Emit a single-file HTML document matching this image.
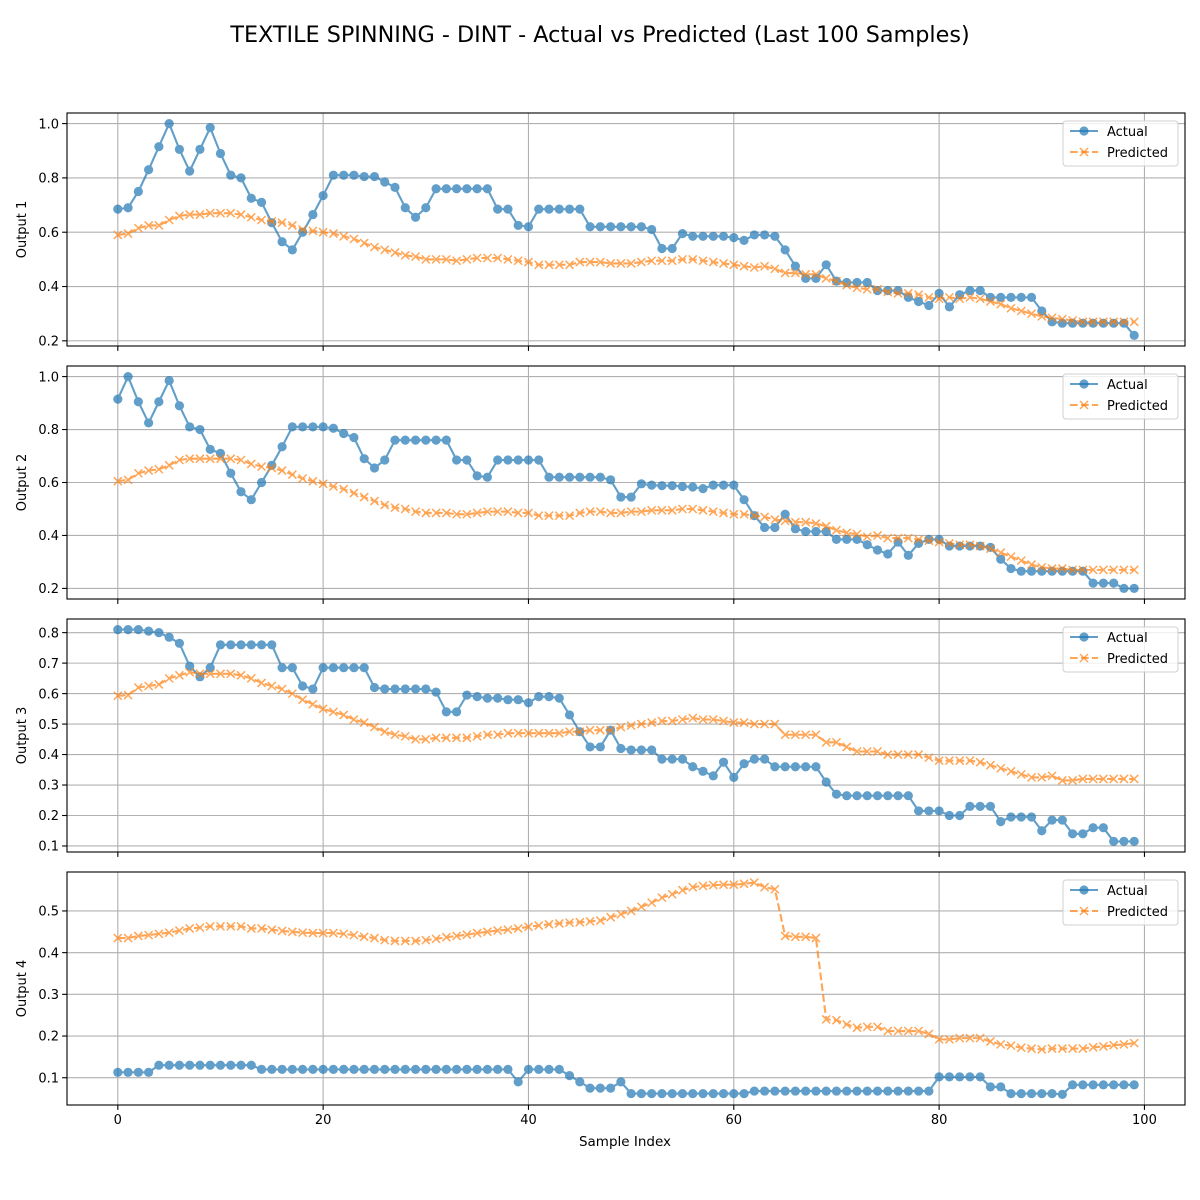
<!DOCTYPE html>
<html><head><meta charset="utf-8"><title>Actual vs Predicted</title>
<style>html,body{margin:0;padding:0;background:#fff}svg{display:block;font-family:"DejaVu Sans","Liberation Sans",sans-serif}</style>
</head><body>
<svg id="fig" width="1200" height="1200" xmlns="http://www.w3.org/2000/svg">
<rect width="1200" height="1200" fill="#fff"/>
<text x="600" y="42" text-anchor="middle" font-size="22.3">TEXTILE SPINNING - DINT - Actual vs Predicted (Last 100 Samples)</text>
<text x="625" y="1146" text-anchor="middle" font-size="13.5">Sample Index</text>
</svg>
<script>
const xTicks = [0, 20, 40, 60, 80, 100];
const panelTitles = ["Output 1", "Output 2", "Output 3", "Output 4"];
const yTicks1 = [0.2, 0.4, 0.6, 0.8, 1.0];
const yTicks2 = [0.2, 0.4, 0.6, 0.8, 1.0];
const yTicks3 = [0.1, 0.2, 0.3, 0.4, 0.5, 0.6, 0.7, 0.8];
const yTicks4 = [0.1, 0.2, 0.3, 0.4, 0.5];
const actual1 = [0.685,0.69,0.75,0.83,0.915,1.0,0.905,0.825,0.905,0.985,0.89,0.81,0.80,0.725,0.71,0.635,0.565,0.535,0.6,0.665,0.735,0.81,0.81,0.81,0.805,0.805,0.785,0.765,0.69,0.655,0.69,0.76,0.76,0.76,0.76,0.76,0.76,0.685,0.685,0.625,0.62,0.685,0.685,0.685,0.685,0.685,0.62,0.62,0.62,0.62,0.62,0.62,0.61,0.54,0.54,0.595,0.585,0.585,0.585,0.585,0.58,0.57,0.59,0.59,0.585,0.535,0.475,0.43,0.43,0.48,0.42,0.415,0.415,0.415,0.385,0.385,0.385,0.36,0.345,0.33,0.375,0.325,0.37,0.385,0.385,0.36,0.36,0.36,0.36,0.36,0.31,0.27,0.265,0.265,0.265,0.265,0.265,0.265,0.265,0.22];
const pred1 = [0.59,0.595,0.615,0.625,0.625,0.645,0.66,0.665,0.665,0.67,0.67,0.67,0.665,0.655,0.645,0.64,0.635,0.625,0.61,0.605,0.60,0.595,0.585,0.575,0.56,0.545,0.535,0.525,0.515,0.51,0.50,0.50,0.50,0.495,0.50,0.505,0.505,0.505,0.50,0.495,0.49,0.48,0.48,0.48,0.48,0.49,0.49,0.49,0.485,0.485,0.485,0.49,0.495,0.495,0.495,0.50,0.50,0.495,0.49,0.485,0.48,0.475,0.47,0.475,0.465,0.45,0.45,0.445,0.445,0.43,0.42,0.405,0.395,0.39,0.39,0.38,0.375,0.375,0.37,0.36,0.355,0.36,0.355,0.36,0.355,0.345,0.335,0.32,0.31,0.30,0.29,0.285,0.28,0.275,0.27,0.27,0.27,0.27,0.27,0.27];
const actual2 = [0.915,1.0,0.905,0.825,0.905,0.985,0.89,0.81,0.80,0.725,0.71,0.635,0.565,0.535,0.6,0.665,0.735,0.81,0.81,0.81,0.81,0.805,0.785,0.77,0.69,0.655,0.685,0.76,0.76,0.76,0.76,0.76,0.76,0.685,0.685,0.625,0.62,0.685,0.685,0.685,0.685,0.685,0.62,0.62,0.62,0.62,0.62,0.62,0.61,0.545,0.545,0.595,0.59,0.588,0.588,0.585,0.583,0.577,0.59,0.59,0.59,0.535,0.475,0.43,0.43,0.48,0.425,0.415,0.415,0.415,0.385,0.385,0.385,0.365,0.345,0.33,0.375,0.325,0.37,0.385,0.385,0.36,0.36,0.36,0.36,0.355,0.31,0.275,0.265,0.265,0.265,0.265,0.265,0.265,0.265,0.22,0.22,0.22,0.2,0.2];
const pred2 = [0.605,0.61,0.635,0.645,0.65,0.665,0.685,0.69,0.69,0.69,0.69,0.69,0.685,0.67,0.66,0.655,0.645,0.63,0.615,0.605,0.595,0.585,0.575,0.56,0.545,0.53,0.515,0.505,0.50,0.49,0.485,0.485,0.485,0.48,0.48,0.485,0.49,0.49,0.49,0.485,0.485,0.475,0.475,0.475,0.475,0.485,0.49,0.49,0.485,0.485,0.49,0.49,0.495,0.495,0.495,0.50,0.50,0.495,0.49,0.485,0.48,0.48,0.475,0.47,0.46,0.455,0.45,0.45,0.445,0.435,0.42,0.41,0.405,0.395,0.40,0.39,0.39,0.39,0.385,0.38,0.375,0.37,0.365,0.365,0.36,0.35,0.335,0.32,0.305,0.29,0.28,0.275,0.275,0.27,0.27,0.27,0.27,0.27,0.27,0.27];
const actual3 = [0.81,0.81,0.81,0.805,0.80,0.785,0.765,0.69,0.655,0.685,0.76,0.76,0.76,0.76,0.76,0.76,0.685,0.685,0.625,0.615,0.685,0.685,0.685,0.685,0.685,0.62,0.615,0.615,0.615,0.615,0.615,0.605,0.54,0.54,0.595,0.59,0.585,0.585,0.58,0.58,0.57,0.59,0.59,0.585,0.53,0.475,0.425,0.425,0.48,0.42,0.415,0.415,0.415,0.385,0.385,0.385,0.36,0.345,0.33,0.375,0.325,0.37,0.385,0.385,0.36,0.36,0.36,0.36,0.36,0.31,0.27,0.265,0.265,0.265,0.265,0.265,0.265,0.265,0.215,0.215,0.215,0.2,0.2,0.23,0.23,0.23,0.18,0.195,0.195,0.195,0.15,0.185,0.185,0.14,0.14,0.16,0.16,0.115,0.115,0.115];
const pred3 = [0.593,0.595,0.62,0.625,0.63,0.65,0.66,0.67,0.665,0.665,0.665,0.665,0.66,0.65,0.635,0.625,0.615,0.60,0.58,0.565,0.55,0.54,0.53,0.515,0.505,0.49,0.475,0.465,0.46,0.45,0.45,0.455,0.455,0.455,0.455,0.46,0.465,0.465,0.47,0.47,0.47,0.47,0.47,0.47,0.475,0.475,0.48,0.48,0.48,0.49,0.495,0.50,0.505,0.51,0.51,0.515,0.52,0.515,0.515,0.51,0.505,0.505,0.50,0.50,0.50,0.465,0.465,0.465,0.465,0.44,0.44,0.425,0.41,0.41,0.41,0.40,0.40,0.40,0.40,0.39,0.38,0.38,0.38,0.38,0.375,0.365,0.355,0.345,0.335,0.325,0.325,0.33,0.315,0.315,0.32,0.32,0.32,0.32,0.32,0.32];
const actual4 = [0.113,0.113,0.113,0.113,0.13,0.13,0.13,0.13,0.13,0.13,0.13,0.13,0.13,0.13,0.12,0.12,0.12,0.12,0.12,0.12,0.12,0.12,0.12,0.12,0.12,0.12,0.12,0.12,0.12,0.12,0.12,0.12,0.12,0.12,0.12,0.12,0.12,0.12,0.12,0.09,0.12,0.12,0.12,0.12,0.105,0.09,0.075,0.075,0.075,0.09,0.062,0.062,0.062,0.062,0.062,0.062,0.062,0.062,0.062,0.062,0.062,0.062,0.068,0.068,0.068,0.068,0.068,0.068,0.068,0.068,0.068,0.068,0.068,0.068,0.068,0.068,0.068,0.068,0.068,0.068,0.102,0.102,0.102,0.102,0.102,0.078,0.078,0.062,0.062,0.062,0.062,0.062,0.06,0.083,0.083,0.083,0.083,0.083,0.083,0.083];
const pred4 = [0.435,0.435,0.44,0.442,0.445,0.448,0.453,0.458,0.46,0.463,0.463,0.463,0.463,0.458,0.458,0.455,0.452,0.45,0.448,0.447,0.447,0.447,0.445,0.442,0.438,0.435,0.43,0.428,0.428,0.428,0.43,0.433,0.437,0.44,0.443,0.447,0.45,0.453,0.455,0.458,0.462,0.465,0.468,0.47,0.472,0.473,0.475,0.477,0.485,0.492,0.50,0.51,0.52,0.532,0.54,0.55,0.557,0.56,0.562,0.563,0.563,0.565,0.568,0.557,0.552,0.44,0.438,0.438,0.435,0.24,0.238,0.228,0.22,0.222,0.222,0.212,0.212,0.212,0.212,0.205,0.192,0.192,0.195,0.195,0.195,0.187,0.18,0.177,0.172,0.17,0.168,0.17,0.17,0.17,0.17,0.173,0.175,0.178,0.18,0.183];

const NS = "http://www.w3.org/2000/svg";
const svg = document.getElementById("fig");
function mk(tag, attrs, parent) {
  const e = document.createElementNS(NS, tag);
  for (const k in attrs) e.setAttribute(k, attrs[k]);
  (parent || svg).appendChild(e);
  return e;
}
const L = 67, R = 1185, H = 233;
const tops = [113, 366, 619, 872];
const allTicks = [yTicks1, yTicks2, yTicks3, yTicks4];
const allActual = [actual1, actual2, actual3, actual4];
const allPred = [pred1, pred2, pred3, pred4];
const xMin = -4.95, xMax = 103.95;
function sx(v) { return L + (v - xMin) / (xMax - xMin) * (R - L); }

for (let p = 0; p < 4; p++) {
  const act = allActual[p], pr = allPred[p];
  const lo = Math.min(...act, ...pr), hi = Math.max(...act, ...pr);
  const m = (hi - lo) * 0.05, yMin = lo - m, yMax = hi + m;
  const T = tops[p], B = T + H;
  const sy = v => B - (v - yMin) / (yMax - yMin) * H;
  const g = mk("g", {});
  
  
  xTicks.forEach(t => {
    const x = sx(t);
    const gl = mk("line", {x1: x, x2: x, y1: T, y2: B, stroke: "#b0b0b0", "stroke-width": 1.1}, g);
    
    
    const tk = mk("line", {x1: x, x2: x, y1: B, y2: B + 4.9, stroke: "#000", "stroke-width": 1.1}, g);
    
    
    if (p === 3) {
      const tl = mk("text", {x: x, y: B + 19, "text-anchor": "middle", "font-size": 13}, g);
      tl.textContent = String(t);
      
      
    }
  });
  allTicks[p].forEach(t => {
    const y = sy(t);
    const gl = mk("line", {x1: L, x2: R, y1: y, y2: y, stroke: "#b0b0b0", "stroke-width": 1.1}, g);
    
    
    const tk = mk("line", {x1: L - 4.9, x2: L, y1: y, y2: y, stroke: "#000", "stroke-width": 1.1}, g);
    
    
    const tl = mk("text", {x: L - 8, y: y + 4.7, "text-anchor": "end", "font-size": 13}, g);
    tl.textContent = t.toFixed(1);
    
    
  });
  const yl = mk("text", {x: 26, y: (T + B) / 2, "text-anchor": "middle", "font-size": 13, transform: `rotate(-90 26 ${(T + B) / 2})`}, g);
  yl.textContent = panelTitles[p];
  
  
  const aPts = act.map((v, i) => sx(i).toFixed(2) + "," + sy(v).toFixed(2)).join(" ");
  const ag = mk("g", {opacity: 0.7}, g);
  
  
  mk("polyline", {points: aPts, fill: "none", stroke: "#1f77b4", "stroke-width": 2.1}, ag);
  act.forEach((v, i) => {
    const c = mk("circle", {cx: sx(i), cy: sy(v), r: 4.6, fill: "#1f77b4"}, ag);
    
    
  });
  const pPts = pr.map((v, i) => sx(i).toFixed(2) + "," + sy(v).toFixed(2)).join(" ");
  const pg = mk("g", {opacity: 0.7}, g);
  
  
  mk("polyline", {points: pPts, fill: "none", stroke: "#ff7f0e", "stroke-width": 2.1, "stroke-dasharray": "7.7,3.3"}, pg);
  pr.forEach((v, i) => {
    const x = sx(i), y = sy(v), d = 4;
    const c = mk("path", {d: `M${x-d},${y-d}L${x+d},${y+d}M${x-d},${y+d}L${x+d},${y-d}`, stroke: "#ff7f0e", "stroke-width": 1.5, fill: "none"}, pg);
    
    
  });
  const fr = mk("rect", {x: L, y: T, width: R - L, height: H, fill: "none", stroke: "#000", "stroke-width": 1.1}, g);
  
  
  const lg = mk("g", {}, g);
  
  
  mk("rect", {x: 1063, y: T + 8, width: 115, height: 45, rx: 3, fill: "#fff", "fill-opacity": 0.8, stroke: "#d0d0d0", "stroke-width": 1}, lg);
  const e1 = mk("g", {}, lg);
  
  
  mk("line", {x1: 1070, x2: 1098, y1: T + 18, y2: T + 18, stroke: "#1f77b4", "stroke-width": 2.1, opacity: 0.7}, e1);
  mk("circle", {cx: 1084, cy: T + 18, r: 4.6, fill: "#1f77b4", opacity: 0.7}, e1);
  const t1 = mk("text", {x: 1107, y: T + 23, "font-size": 13}, e1);
  t1.textContent = "Actual";
  const e2 = mk("g", {}, lg);
  
  
  mk("line", {x1: 1070, x2: 1098, y1: T + 39, y2: T + 39, stroke: "#ff7f0e", "stroke-width": 2.1, "stroke-dasharray": "7.7,3.3", opacity: 0.7}, e2);
  mk("path", {d: `M1080,${T+35}L1088,${T+43}M1080,${T+43}L1088,${T+35}`, stroke: "#ff7f0e", "stroke-width": 1.5, opacity: 0.7}, e2);
  const t2 = mk("text", {x: 1107, y: T + 44, "font-size": 13}, e2);
  t2.textContent = "Predicted";
}
</script>
</body></html>
